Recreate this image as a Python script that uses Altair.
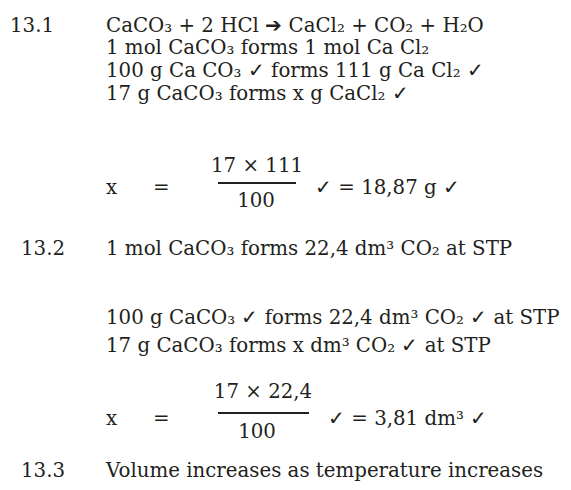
import altair as alt
import pandas as pd

# ---- content ----
labels = ["13.1", "13.2", "13.3"]
lines = [
    "CaCO₃ + 2 HCl ➔ CaCl₂ + CO₂ + H₂O",
    "1 mol CaCO₃ forms 1 mol Ca Cl₂",
    "100 g Ca CO₃ ✓ forms 111 g Ca Cl₂ ✓",
    "17 g CaCO₃ forms x g CaCl₂ ✓",
    "1 mol CaCO₃ forms 22,4 dm³ CO₂ at STP",
    "100 g CaCO₃ ✓ forms 22,4 dm³ CO₂ ✓ at STP",
    "17 g CaCO₃ forms x dm³ CO₂ ✓ at STP",
    "Volume increases as temperature increases",
]
eq_lhs = ["x", "x"]
eq_sign = ["=", "="]
numerators = ["17 × 111", "17 × 22,4"]
denominators = ["100", "100"]
results = ["✓ = 18,87 g ✓", "✓ = 3,81 dm³ ✓"]

# ---- layout (page coordinates of text baselines / left edges) ----
label_x = [10, 21, 21]
label_y = [32, 255, 477]
text_x = 106
line_y = [32, 54, 77, 100, 255, 324, 352, 477]
lhs_x, eq_x = 106, 153
frac_main_y = [194, 425]
frac_bar_y = [183, 413]
frac_bar_x = [(218, 296), (218, 309)]
num_y = [172, 398]
num_cx = [257, 263]
den_y = [207, 438]
den_cx = [256, 257]
res_x = [315, 328]

left_rows = []
for t, x, y in zip(labels, label_x, label_y):
    left_rows.append({"t": t, "x": x, "y": y})
for t, y in zip(lines, line_y):
    left_rows.append({"t": t, "x": text_x, "y": y})
for i in range(2):
    left_rows.append({"t": eq_lhs[i], "x": lhs_x, "y": frac_main_y[i]})
    left_rows.append({"t": eq_sign[i], "x": eq_x, "y": frac_main_y[i]})
    left_rows.append({"t": results[i], "x": res_x[i], "y": frac_main_y[i]})

center_rows = []
for i in range(2):
    center_rows.append({"t": numerators[i], "x": num_cx[i], "y": num_y[i]})
    center_rows.append({"t": denominators[i], "x": den_cx[i], "y": den_y[i]})

bar_rows = [{"x": a, "x2": b, "y": y} for (a, b), y in zip(frac_bar_x, frac_bar_y)]

W, H = 555, 474
xs = alt.Scale(domain=[8, 8 + W])
ys = alt.Scale(domain=[8, 8 + H], reverse=True)
FONT = "DejaVu Serif"
SIZE = 19.8
COLOR = "#231f20"

left = alt.Chart(pd.DataFrame(left_rows)).mark_text(
    align="left", baseline="alphabetic", font=FONT, fontSize=SIZE, color=COLOR
).encode(
    x=alt.X("x:Q", scale=xs, axis=None),
    y=alt.Y("y:Q", scale=ys, axis=None),
    text="t:N",
)

center = alt.Chart(pd.DataFrame(center_rows)).mark_text(
    align="center", baseline="alphabetic", font=FONT, fontSize=SIZE, color=COLOR
).encode(
    x=alt.X("x:Q", scale=xs, axis=None),
    y=alt.Y("y:Q", scale=ys, axis=None),
    text="t:N",
)

bars = alt.Chart(pd.DataFrame(bar_rows)).mark_rule(color=COLOR, strokeWidth=2).encode(
    x=alt.X("x:Q", scale=xs, axis=None),
    x2="x2:Q",
    y=alt.Y("y:Q", scale=ys, axis=None),
)

chart = (
    alt.layer(bars, left, center)
    .properties(width=W, height=H, padding=0, autosize=alt.AutoSizeParams(type="none"),
                background="white")
    .configure_view(stroke=None)
)

chart.save("out.html", embed_options={"renderer": "svg", "actions": False})
